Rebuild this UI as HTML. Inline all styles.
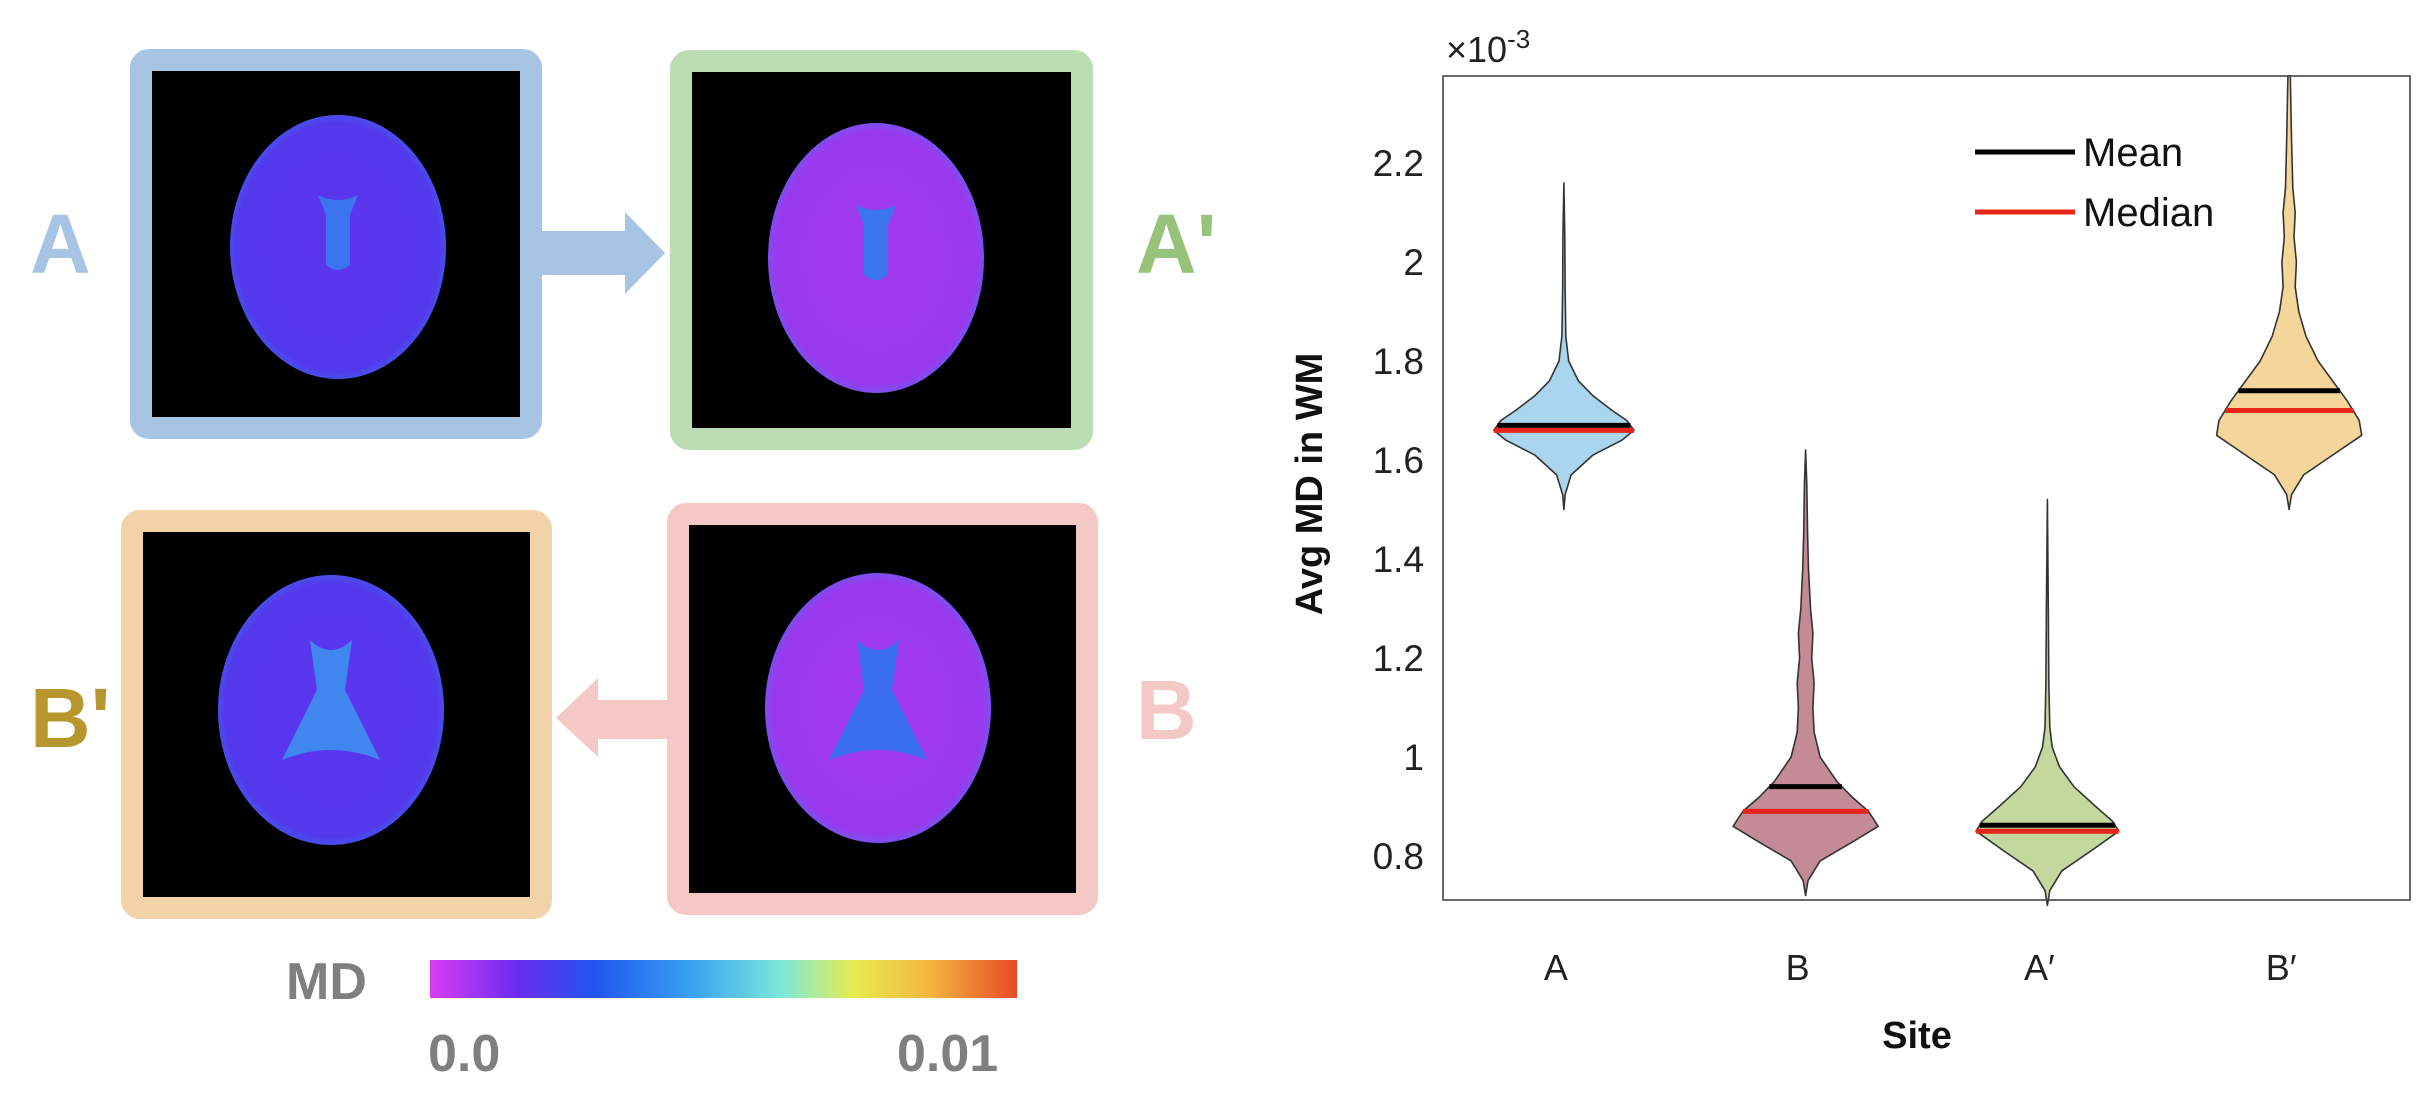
<!DOCTYPE html>
<html><head><meta charset="utf-8">
<style>
html,body{margin:0;padding:0;background:#fff;}
body{width:2420px;height:1120px;position:relative;overflow:hidden;font-family:"Liberation Sans",sans-serif;}
.abs{position:absolute;}
.lbl{position:absolute;font-weight:bold;font-family:"Liberation Sans",sans-serif;}
</style></head>
<body>
<svg width="2420" height="1120" viewBox="0 0 2420 1120" style="position:absolute;left:0;top:0">
  <defs>
    <linearGradient id="cbar" x1="0" x2="1" y1="0" y2="0">
      <stop offset="0" stop-color="#d83cf5"/>
      <stop offset="0.15" stop-color="#6a2cf0"/>
      <stop offset="0.28" stop-color="#2055ee"/>
      <stop offset="0.45" stop-color="#3aa4f2"/>
      <stop offset="0.6" stop-color="#7de8d8"/>
      <stop offset="0.72" stop-color="#e6ec50"/>
      <stop offset="0.85" stop-color="#f4b640"/>
      <stop offset="1" stop-color="#e84a26"/>
    </linearGradient>
    <radialGradient id="brainA" cx="0.5" cy="0.5" r="0.55">
      <stop offset="0" stop-color="#5e35ee"/><stop offset="0.85" stop-color="#5338ec"/><stop offset="1" stop-color="#3a6ff0"/>
    </radialGradient>
    <radialGradient id="brainP" cx="0.5" cy="0.5" r="0.55">
      <stop offset="0" stop-color="#a53af0"/><stop offset="0.85" stop-color="#9a3aee"/><stop offset="1" stop-color="#4a70f0"/>
    </radialGradient>
  </defs>

  <!-- Panel A -->
  <g>
    <rect x="141" y="60" width="390" height="368" rx="8" fill="#000" stroke="#a7c4e4" stroke-width="22"/>
    <ellipse cx="338" cy="247" rx="108" ry="132" fill="url(#brainA)"/>
    <path d="M318 195 Q338 205 358 195 L350 215 L350 265 Q338 275 326 265 L326 215 Z" fill="#3a74ee"/>
  </g>
  <!-- Panel A' -->
  <g>
    <rect x="681" y="61" width="401" height="378" rx="8" fill="#000" stroke="#bcdcb4" stroke-width="22"/>
    <ellipse cx="876" cy="258" rx="108" ry="135" fill="url(#brainP)"/>
    <path d="M856 205 Q876 215 896 205 L888 225 L888 275 Q876 285 864 275 L864 225 Z" fill="#3a74ee"/>
  </g>
  <!-- Panel B' -->
  <g>
    <rect x="132" y="521" width="409" height="387" rx="8" fill="#000" stroke="#f2d3a8" stroke-width="22"/>
    <ellipse cx="331" cy="710" rx="113" ry="135" fill="url(#brainA)"/>
    <path d="M310 640 Q331 660 352 640 L345 690 L380 760 Q331 740 282 760 L317 690 Z" fill="#3f86ee"/>
  </g>
  <!-- Panel B -->
  <g>
    <rect x="678" y="514" width="409" height="390" rx="8" fill="#000" stroke="#f4c8c5" stroke-width="22"/>
    <ellipse cx="878" cy="708" rx="113" ry="135" fill="url(#brainP)"/>
    <path d="M857 640 Q878 660 899 640 L892 690 L927 760 Q878 740 829 760 L864 690 Z" fill="#3a6ff0"/>
  </g>
  <!-- arrows -->
  <path d="M542 231 L625 231 L625 212 L665 253 L625 294 L625 275 L542 275 Z" fill="#a7c4e4"/>
  <path d="M667 700 L598 700 L598 678 L556 718 L598 757 L598 739 L667 739 Z" fill="#f4c8c5"/>
  <!-- colorbar -->
  <rect x="430" y="960" width="587" height="38" fill="url(#cbar)"/>
</svg>

<div class="lbl" style="left:30px;top:196px;font-size:84px;color:#a7c4e4;">A</div>
<div class="lbl" style="left:1136px;top:196px;font-size:84px;color:#97c27a;">A'</div>
<div class="lbl" style="left:1136px;top:662px;font-size:84px;color:#f4c8c5;">B</div>
<div class="lbl" style="left:30px;top:670px;font-size:84px;color:#b8962e;">B'</div>
<div class="lbl" style="left:286px;top:952px;font-size:52px;color:#7f7f7f;">MD</div>
<div class="lbl" style="left:428px;top:1024px;font-size:52px;color:#7f7f7f;">0.0</div>
<div class="lbl" style="left:897px;top:1024px;font-size:52px;color:#7f7f7f;">0.01</div>

<svg id="chart" width="2420" height="1120" viewBox="0 0 2420 1120" style="position:absolute;left:0;top:0"></svg>

<script>
const categories = ["A", "B", "A\u2032", "B\u2032"];
const yTicks = [0.8, 1, 1.2, 1.4, 1.6, 1.8, 2, 2.2];
const yTickLabels = ["0.8", "1", "1.2", "1.4", "1.6", "1.8", "2", "2.2"];
const means = [1.67, 0.94, 0.862, 1.74];
const medians = [1.66, 0.89, 0.85, 1.70];
const colors = ["#aad5ee", "#c48a98", "#c4d79c", "#f4d69a"];
const profileA = [[1.50,0],[1.53,0.005],[1.57,0.03],[1.61,0.12],[1.64,0.24],[1.66,0.29],[1.68,0.26],[1.70,0.2],[1.73,0.12],[1.76,0.06],[1.80,0.02],[1.85,0.008],[1.95,0.005],[2.05,0.004],[2.16,0]];
const profileB = [[0.72,0],[0.75,0.01],[0.79,0.06],[0.83,0.2],[0.86,0.3],[0.89,0.26],[0.92,0.19],[0.95,0.13],[1.0,0.06],[1.05,0.035],[1.10,0.03],[1.15,0.035],[1.20,0.025],[1.25,0.03],[1.30,0.02],[1.38,0.012],[1.45,0.008],[1.55,0.005],[1.62,0]];
const profileAp = [[0.70,0],[0.73,0.01],[0.77,0.06],[0.81,0.18],[0.85,0.295],[0.87,0.27],[0.90,0.2],[0.94,0.11],[0.98,0.05],[1.02,0.02],[1.06,0.01],[1.15,0.006],[1.3,0.004],[1.52,0]];
const profileBp = [[1.50,0],[1.53,0.01],[1.57,0.06],[1.61,0.18],[1.65,0.3],[1.68,0.29],[1.72,0.24],[1.76,0.18],[1.80,0.12],[1.85,0.07],[1.90,0.04],[1.95,0.025],[2.0,0.03],[2.05,0.02],[2.1,0.025],[2.15,0.015],[2.25,0.01],[2.376,0.005]];
const profiles = [profileA, profileB, profileAp, profileBp];

const NS = "http://www.w3.org/2000/svg";
const svg = document.getElementById("chart");
const L = 1443, R = 2410, T = 76, B = 900;
const yMin = 0.711, yMax = 2.376;
function yS(v){ return B - (v - yMin) / (yMax - yMin) * (B - T); }
function xS(c){ return L + (c + 0.5) / categories.length * (R - L); }
function mk(tag, attrs){ const e = document.createElementNS(NS, tag); for (const k in attrs) e.setAttribute(k, attrs[k]); svg.appendChild(e); return e; }
function widthAt(p, v){
  for (let i = 0; i < p.length - 1; i++) {
    if (v >= p[i][0] && v <= p[i+1][0]) { const t = (v - p[i][0]) / (p[i+1][0] - p[i][0]); return p[i][1] + t * (p[i+1][1] - p[i][1]); }
  }
  return 0;
}

// violins
profiles.forEach((p, i) => {
  const right = p.map(d => [xS(i + d[1]), yS(d[0])]);
  const left = p.slice().reverse().map(d => [xS(i - d[1]), yS(d[0])]);
  const pts = right.concat(left).map(q => q[0].toFixed(1) + "," + q[1].toFixed(1)).join(" ");
  const poly = mk("polygon", {points: pts, fill: colors[i], stroke: "#333", "stroke-width": 1.6, "stroke-linejoin": "round"});
  
  
  const wm = widthAt(p, means[i]);
  const ml = mk("line", {x1: xS(i - wm), x2: xS(i + wm), y1: yS(means[i]), y2: yS(means[i]), stroke: "#000", "stroke-width": 5});
  
  
  const wd = widthAt(p, medians[i]);
  const dl = mk("line", {x1: xS(i - wd), x2: xS(i + wd), y1: yS(medians[i]), y2: yS(medians[i]), stroke: "#e8231a", "stroke-width": 5});
  
  
});

// axes box
const box = mk("rect", {x: L, y: T, width: R - L, height: B - T, fill: "none", stroke: "#444", "stroke-width": 1.6});



yTicks.forEach((v, i) => {
  const t = mk("text", {x: 1424, y: yS(v) + 13, "text-anchor": "end", "font-size": 37, fill: "#222", "font-family": "Liberation Sans, sans-serif"});
  t.textContent = yTickLabels[i];
  
  
});
categories.forEach((c, i) => {
  const t = mk("text", {x: xS(i) - 8, y: 980, "text-anchor": "middle", "font-size": 36, fill: "#222", "font-family": "Liberation Sans, sans-serif"});
  t.textContent = c;
  
  
});

const ex = mk("text", {x: 1446, y: 62, "font-size": 36, fill: "#222", "font-family": "Liberation Sans, sans-serif"});
ex.innerHTML = '×10<tspan dy="-14" font-size="26">-3</tspan>';



const yt = mk("text", {x: 0, y: 0, transform: "translate(1322,484) rotate(-90)", "text-anchor": "middle", "font-size": 38, "font-weight": "bold", fill: "#111", "font-family": "Liberation Sans, sans-serif"});
yt.textContent = "Avg MD in WM";



const xt = mk("text", {x: 1917, y: 1048, "text-anchor": "middle", "font-size": 38, "font-weight": "bold", fill: "#111", "font-family": "Liberation Sans, sans-serif"});
xt.textContent = "Site";



// legend
const lg1 = mk("line", {x1: 1975, x2: 2075, y1: 152, y2: 152, stroke: "#000", "stroke-width": 5});


const lt1 = mk("text", {x: 2083, y: 166, "font-size": 40, fill: "#111", "font-family": "Liberation Sans, sans-serif"});
lt1.textContent = "Mean";


const lg2 = mk("line", {x1: 1975, x2: 2075, y1: 212, y2: 212, stroke: "#e8231a", "stroke-width": 5});


const lt2 = mk("text", {x: 2083, y: 226, "font-size": 40, fill: "#111", "font-family": "Liberation Sans, sans-serif"});
lt2.textContent = "Median";


</script>
</body></html>
